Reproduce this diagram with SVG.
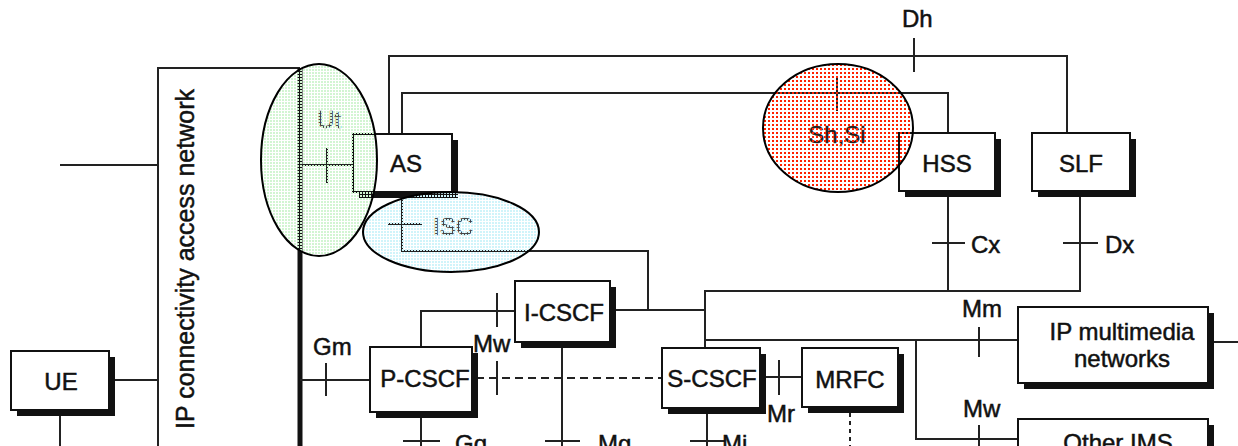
<svg xmlns="http://www.w3.org/2000/svg" width="1238" height="446" viewBox="0 0 1238 446">
<defs>
<pattern id="dotG" width="3" height="3" patternUnits="userSpaceOnUse"><rect width="2" height="2" fill="#d2f5d2"/></pattern>
<pattern id="dotB" width="3" height="3" patternUnits="userSpaceOnUse"><rect width="2" height="2" fill="#d0f4fa"/></pattern>
<pattern id="dotR" width="4" height="4" patternUnits="userSpaceOnUse"><rect width="2" height="2" fill="#ff2200"/></pattern>
</defs>
<style>
.ln{stroke:#222;stroke-width:2;fill:none}
.tk{stroke:#222;stroke-width:2;fill:none}
.box{fill:#fff;stroke:#111;stroke-width:2}
.sh{fill:#111}
.lbl{font-family:"Liberation Sans",Arial,sans-serif;font-size:24px;fill:#111;stroke:#111;stroke-width:0.5}
.bt{font-family:"Liberation Sans",Arial,sans-serif;font-size:24px;fill:#111;stroke:#111;stroke-width:0.5;text-anchor:middle}
.hl{stroke:#000;stroke-width:2}
</style>
<rect width="1238" height="446" fill="#fff"/>

<g id="connectors">
  <path class="ln" d="M158,446 V68 H300"/>
  <path d="M300,68 V446" stroke="#111" stroke-width="5" fill="none"/>
  <path class="ln" d="M60,165 H158"/>
  <path class="ln" d="M115,380 H158"/>
  <path class="ln" d="M60,416 V446"/>
  <path class="ln" d="M300,380 H370"/>
  <path class="tk" d="M326,363 V396"/>
  <path class="ln" d="M421,347 V311 H515"/>
  <path class="tk" d="M497,293 V327"/>
  <path class="ln" d="M476,378 H662" stroke-dasharray="8 5"/>
  <path class="tk" d="M497,361 V395"/>
  <path class="ln" d="M562,347 V446"/>
  <path class="ln" d="M615,310 H705"/>
  <path class="ln" d="M402,197 V251 H648 V310"/>
  <path class="ln" d="M300,165 H353"/>
  <path class="tk" d="M327,148 V183"/>
  <path class="tk" d="M388,224 H422"/>
  <path class="ln" d="M402,134 V93 H948 V133"/>
  <path class="tk" d="M837,76 V111"/>
  <path class="ln" d="M389,134 V56 H1067 V133"/>
  <path class="tk" d="M914,38 V72"/>
  <path class="ln" d="M705,348 V291 H1080 V197"/>
  <path class="ln" d="M948,197 V291"/>
  <path class="tk" d="M932,243 H965"/>
  <path class="tk" d="M1063,243 H1098"/>
  <path class="ln" d="M705,340 H1018"/>
  <path class="tk" d="M979,327 V357"/>
  <path class="ln" d="M916,340 V439 H1018"/>
  <path class="tk" d="M979,425 V450"/>
  <path class="ln" d="M1213,342 H1238"/>
  <path class="ln" d="M765,377 H802"/>
  <path class="tk" d="M779,360 V395"/>
  <path class="ln" d="M707,413 V446"/>
  <path class="tk" d="M690,441 H725"/>
  <path class="ln" d="M850,413 V446" stroke-dasharray="4 4"/>
  <path class="ln" d="M421,418 V446"/>
  <path class="tk" d="M403,441 H440"/>
  <path class="tk" d="M545,441 H580"/>
</g>

<g id="access-network">
  <text class="lbl" style="font-size:25px" text-anchor="middle" transform="translate(194,259) rotate(-90)">IP connectivity access network</text>
</g>

<g id="UE"><rect class="sh" x="17" y="357" width="98" height="59"/><rect class="box" x="11" y="351" width="98" height="59"/><text class="bt" x="61" y="390">UE</text></g>
<g id="P-CSCF"><rect class="sh" x="376" y="353" width="102" height="65"/><rect class="box" x="370" y="347" width="102" height="65"/><text class="bt" x="425" y="387">P-CSCF</text></g>
<g id="I-CSCF"><rect class="sh" x="521" y="287" width="95" height="61"/><rect class="box" x="515" y="281" width="95" height="61"/><text class="bt" x="564" y="321">I-CSCF</text></g>
<g id="S-CSCF"><rect class="sh" x="668" y="354" width="98" height="60"/><rect class="box" x="662" y="348" width="98" height="60"/><text class="bt" x="712" y="387">S-CSCF</text></g>
<g id="MRFC"><rect class="sh" x="808" y="354" width="96" height="59"/><rect class="box" x="802" y="348" width="96" height="59"/><text class="bt" x="850" y="388">MRFC</text></g>
<g id="AS"><rect class="sh" x="359" y="140" width="99" height="58"/><rect class="box" x="353" y="134" width="99" height="58"/><text class="bt" x="406" y="172">AS</text></g>
<g id="HSS"><rect class="sh" x="905" y="139" width="96" height="58"/><rect class="box" x="899" y="133" width="96" height="58"/><text class="bt" x="947" y="172">HSS</text></g>
<g id="SLF"><rect class="sh" x="1038" y="139" width="98" height="58"/><rect class="box" x="1032" y="133" width="98" height="58"/><text class="bt" x="1081" y="172">SLF</text></g>
<g id="IP-multimedia-networks"><rect class="sh" x="1024" y="313" width="190" height="76"/><rect class="box" x="1018" y="307" width="190" height="76"/><text class="bt" x="1122" y="340">IP multimedia</text><text class="bt" x="1122" y="367">networks</text></g>
<g id="Other-IMS"><rect class="sh" x="1024" y="425" width="190" height="40"/><rect class="box" x="1018" y="419" width="190" height="40"/><text class="bt" x="1118" y="451">Other IMS</text></g>

<g id="labels">
  <text class="lbl" x="902" y="27">Dh</text>
  <text class="lbl" x="317" y="128" style="fill:#444;stroke:#444">Ut</text>
  <text class="lbl" x="433" y="235" style="fill:#444;stroke:#444">ISC</text>
  <text class="lbl" x="837" y="143" text-anchor="middle" style="fill:#222;stroke:#222">Sh,Si</text>
  <text class="lbl" x="971" y="253">Cx</text>
  <text class="lbl" x="1105" y="253">Dx</text>
  <text class="lbl" x="962" y="317">Mm</text>
  <text class="lbl" x="963" y="417">Mw</text>
  <text class="lbl" x="313" y="355">Gm</text>
  <text class="lbl" x="473" y="352">Mw</text>
  <text class="lbl" x="767" y="422">Mr</text>
  <text class="lbl" x="455" y="452">Gq</text>
  <text class="lbl" x="598" y="452">Mg</text>
  <text class="lbl" x="722" y="452">Mi</text>
</g>

<g id="highlight-Ut"><ellipse class="hl" cx="319" cy="160" rx="58" ry="96" fill="url(#dotG)"/></g>
<g id="highlight-ISC"><ellipse class="hl" cx="451" cy="232" rx="88" ry="40" fill="url(#dotB)"/></g>
<g id="highlight-Sh"><ellipse class="hl" cx="838" cy="128" rx="75" ry="64" fill="url(#dotR)"/></g>
</svg>
